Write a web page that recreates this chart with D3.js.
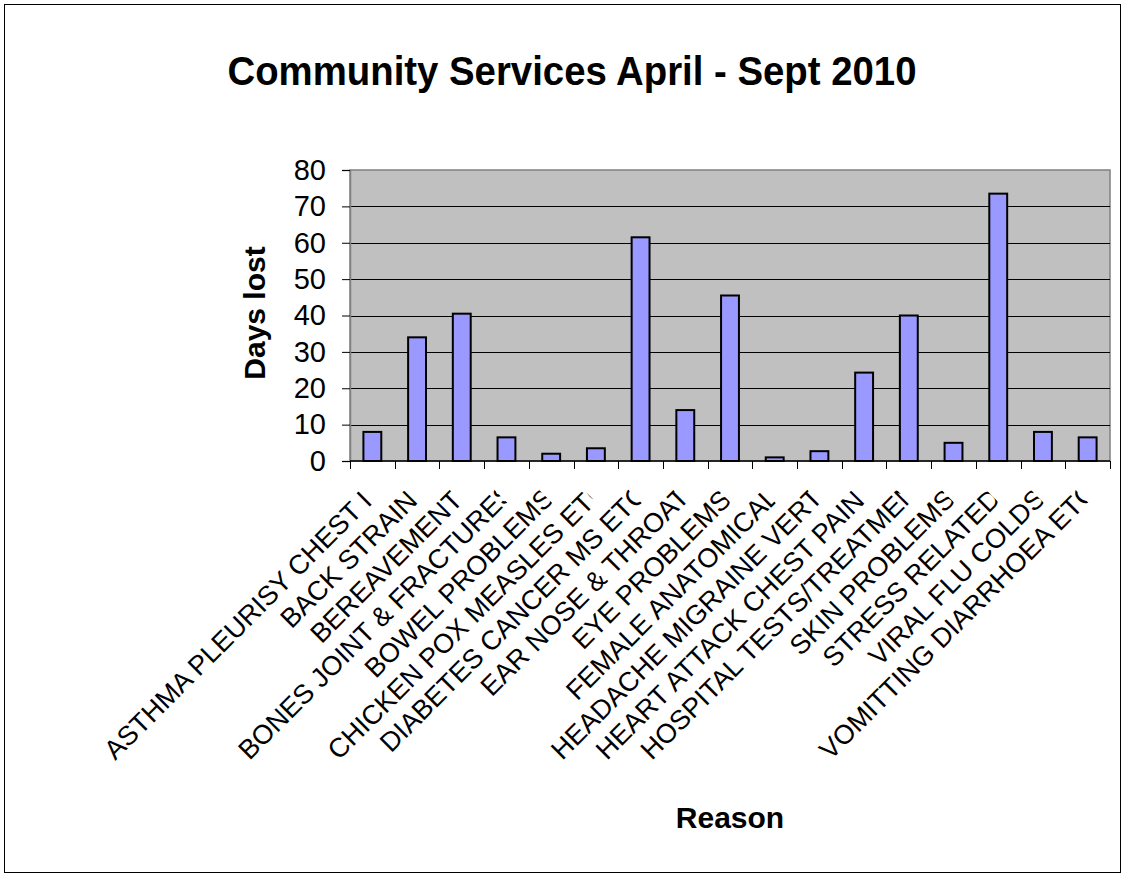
<!DOCTYPE html>
<html lang="en">
<head>
	<meta charset="UTF-8">
	<title>Community Services April - Sept 2010</title>
	<script src="https://cdn.jsdelivr.net/npm/d3@7"></script>
	<style>
		body { margin: 0; background: #fff; }
		text { font-family: Arial, "Liberation Sans", sans-serif; }
	</style>
</head>
<body>
<svg id="chart" width="1125" height="877"></svg>
<script>

// data
const reasons = [
	'ASTHMA PLEURISY CHEST INFECTION', 'BACK STRAIN', 'BEREAVEMENT',
	'BONES JOINT & FRACTURES', 'BOWEL PROBLEMS', 'CHICKEN POX MEASLES ETC',
	'DIABETES CANCER MS ETC', 'EAR NOSE & THROAT', 'EYE PROBLEMS',
	'FEMALE ANATOMICAL', 'HEADACHE MIGRAINE VERTIGO', 'HEART ATTACK CHEST PAINS',
	'HOSPITAL TESTS/TREATMENT', 'SKIN PROBLEMS', 'STRESS RELATED',
	'VIRAL FLU COLDS', 'VOMITTING DIARRHOEA ETC'
];
const daysLost = [8, 34, 40.5, 6.5, 2, 3.5, 61.5, 14, 45.5, 1, 2.7, 24.3, 40, 5, 73.5, 8, 6.5];
const yTicks = [0, 10, 20, 30, 40, 50, 60, 70, 80];

const chartTitle = 'Community Services April - Sept 2010';
const xTitle = 'Reason';
const yTitle = 'Days lost';

const svg = d3.select('#chart');
const plot = {left: 350, right: 1110, top: 170, bottom: 461};

// outer chart border
svg.append('rect')
	.attr('x', 4.5).attr('y', 4.5)
	.attr('width', 1116).attr('height', 868)
	.attr('fill', '#fff').attr('stroke', '#000').attr('stroke-width', 1);

const x = d3.scaleBand()
	.domain(reasons)
	.range([plot.left, plot.right])
	.paddingInner(0.6)
	.paddingOuter(0.3);

const y = d3.scaleLinear()
	.domain([0, 80])
	.range([plot.bottom, plot.top]);

// plot area
svg.append('rect')
	.attr('x', plot.left).attr('y', plot.top)
	.attr('width', plot.right - plot.left).attr('height', plot.bottom - plot.top)
	.attr('fill', '#c0c0c0').attr('stroke', '#808080').attr('stroke-width', 1.5);

// gridlines
svg.append('g')
	.selectAll('line')
	.data(yTicks.filter(d => d > 0 && d < 80))
	.join('line')
	.attr('x1', plot.left).attr('x2', plot.right)
	.attr('y1', d => Math.round(y(d)) + 0.5).attr('y2', d => Math.round(y(d)) + 0.5)
	.attr('stroke', '#000').attr('stroke-width', 1);

// y axis
const yAxis = svg.append('g')
	.attr('transform', `translate(${plot.left},0)`)
	.call(d3.axisLeft(y).tickValues(yTicks).tickSize(8).tickPadding(16));
yAxis.select('.domain').attr('stroke', '#808080').attr('stroke-width', 1.5);
yAxis.selectAll('.tick line').attr('stroke', '#000');
yAxis.selectAll('.tick text')
	.attr('font-size', 29)
	.attr('fill', '#000')
	.attr('font-family', 'Arial, "Liberation Sans", sans-serif');

// bars
svg.append('g')
	.selectAll('rect')
	.data(daysLost)
	.join('rect')
	.attr('x', (d, i) => x(reasons[i]))
	.attr('y', d => y(d))
	.attr('width', x.bandwidth())
	.attr('height', d => y(0) - y(d))
	.attr('fill', '#9999ff')
	.attr('stroke', '#000')
	.attr('stroke-width', 2);

// x axis line + category ticks at band edges
const edges = d3.range(reasons.length + 1).map(k => plot.left + k * (plot.right - plot.left) / reasons.length);
svg.append('line')
	.attr('x1', plot.left).attr('x2', plot.right)
	.attr('y1', plot.bottom).attr('y2', plot.bottom)
	.attr('stroke', '#000').attr('stroke-width', 1.5);
svg.append('g')
	.selectAll('line')
	.data(edges)
	.join('line')
	.attr('x1', d => Math.round(d) + 0.5).attr('x2', d => Math.round(d) + 0.5)
	.attr('y1', plot.bottom).attr('y2', plot.bottom + 8)
	.attr('stroke', '#000');

// category labels: rotated boxes ending near the axis, text overflowing the box end is cut
svg.append('clipPath').attr('id', 'labelClip')
	.append('rect')
	.attr('x', -1000).attr('y', -60)
	.attr('width', 1000).attr('height', 120);

const labelFont = 27;
const maxLen = 357;
const fitK = 0.95;
const overhang = 8;
const labels = svg.append('g');
reasons.forEach((r, i) => {
	const cx = x(r) + x.bandwidth() / 2;
	const g = labels.append('g')
		.attr('transform', `translate(${cx + 1},503) rotate(-45)`);
	const t = g.append('text')
		.attr('font-size', labelFont)
		.attr('fill', '#000')
		.attr('clip-path', 'url(#labelClip)')
		.attr('y', 0)
		.text(r);
	const len = t.node().getComputedTextLength();
	t.attr('x', -overhang - Math.min(len * fitK, maxLen));
});

// titles
svg.append('text')
	.attr('x', 572).attr('y', 85)
	.attr('text-anchor', 'middle')
	.attr('font-size', 41)
	.attr('font-weight', 'bold')
	.attr('textLength', 689)
	.attr('lengthAdjust', 'spacingAndGlyphs')
	.text(chartTitle);

svg.append('text')
	.attr('x', 730).attr('y', 828)
	.attr('text-anchor', 'middle')
	.attr('font-size', 30)
	.attr('font-weight', 'bold')
	.text(xTitle);

svg.append('text')
	.attr('transform', 'translate(265,313) rotate(-90)')
	.attr('text-anchor', 'middle')
	.attr('font-size', 30)
	.attr('font-weight', 'bold')
	.text(yTitle);

</script>
</body>
</html>
